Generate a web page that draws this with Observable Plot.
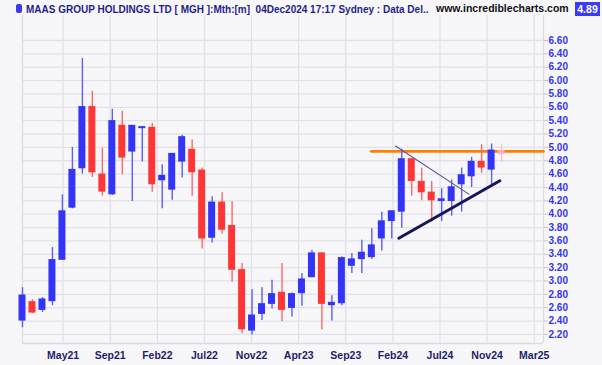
<!DOCTYPE html>
<html>
<head>
<meta charset="utf-8">
<script src="https://cdn.jsdelivr.net/npm/d3@7"></script>
<script src="https://cdn.jsdelivr.net/npm/@observablehq/plot@0.6"></script>
<style>
  html, body { margin: 0; padding: 0; background: #f7f7fa; }
  #wrap { position: relative; width: 602px; height: 365px; overflow: hidden; font-family: "Liberation Sans", Arial, sans-serif; }
  #chart { position: absolute; left: 0; top: 0; }
  .hdr { position: absolute; white-space: pre; font-weight: bold; line-height: 11px; }
</style>
</head>
<body>
<div id="wrap">
  <div id="chart"></div>
  <div class="hdr" style="left:16px;top:4px;width:6px;height:9px;background:#3a3aee;border-radius:2px;"></div>
  <div class="hdr" id="title" style="left:26px;top:4px;font-size:10px;color:#1e1e8c;"></div>
  <div class="hdr" id="site" style="left:436px;top:3px;font-size:10.5px;color:#111;"></div>
  <div class="hdr" id="last" style="left:575px;top:2px;width:25px;height:14px;line-height:14px;text-align:center;font-size:10.5px;color:#fff;background:#3b3bf5;"></div>
</div>
<script>
// ---- data ----
const titleText = "MAAS GROUP HOLDINGS LTD [ MGH ]:Mth:[m]  04Dec2024 17:17 Sydney : Data Del..";
const siteText = "www.incrediblecharts.com";
const lastPrice = "4.89";

// monthly candles Dec 2020 .. Dec 2024
const months = ["Dec20","Jan21","Feb21","Mar21","Apr21","May21","Jun21","Jul21","Aug21","Sep21","Oct21","Nov21",
  "Dec21","Jan22","Feb22","Mar22","Apr22","May22","Jun22","Jul22","Aug22","Sep22","Oct22","Nov22",
  "Dec22","Jan23","Feb23","Mar23","Apr23","May23","Jun23","Jul23","Aug23","Sep23","Oct23","Nov23",
  "Dec23","Jan24","Feb24","Mar24","Apr24","May24","Jun24","Jul24","Aug24","Sep24","Oct24","Nov24","Dec24"];
const openP  = [2.41,2.68,2.57,2.70,3.32,4.10,4.69,5.60,4.59,4.30,5.32,4.94,5.29,5.29,4.51,4.37,4.79,4.96,4.65,3.65,
  4.17,3.82,3.16,2.26,2.51,2.66,2.82,2.60,2.82,3.06,3.41,2.64,2.67,3.23,3.33,3.36,3.64,3.90,4.04,4.82,
  4.48,4.32,4.20,4.20,4.45,4.57,4.78,4.67,4.94];
const highP  = [2.90,2.72,2.75,3.50,4.29,5.00,6.33,5.84,4.99,5.57,5.54,5.32,5.31,5.36,4.74,4.91,5.18,5.11,4.69,4.26,
  4.32,4.19,3.26,2.87,2.90,3.01,3.26,2.82,3.11,3.46,3.42,2.78,3.36,3.41,3.61,3.78,4.03,4.05,4.97,4.83,
  4.69,4.49,4.38,4.51,4.69,4.85,5.04,5.05,5.05];
const lowP   = [2.30,2.51,2.53,2.63,3.31,4.08,4.60,4.55,4.27,4.28,4.59,4.19,4.78,4.33,4.08,4.21,4.54,4.27,3.48,3.57,
  3.70,2.98,2.21,2.19,2.41,2.58,2.39,2.46,2.62,3.05,2.27,2.40,2.63,3.11,3.11,3.32,3.45,3.63,3.79,4.27,
  4.20,3.88,3.89,3.97,4.03,4.40,4.61,4.44,4.78];
const closeP = [2.78,2.53,2.72,3.31,4.04,4.66,5.60,4.63,4.34,5.39,4.85,5.32,5.30,4.45,4.57,4.90,5.15,4.63,3.64,4.17,
  3.77,3.17,2.28,2.48,2.65,2.80,2.57,2.80,3.02,3.41,2.66,2.67,3.34,3.32,3.42,3.53,3.89,4.04,4.82,4.50,
  4.33,4.21,4.22,4.40,4.58,4.78,4.70,4.95,4.90];

const xTickPos = [4.07, 8.79, 13.51, 18.23, 22.95, 27.67, 32.39, 37.11, 41.83, 46.55, 51.27];
const xTickLabels = ["May21","Sep21","Feb22","Jul22","Nov22","Apr23","Sep23","Feb24","Jul24","Nov24","Mar25"];
const yTicks = d3.range(22, 67, 2).map(v => v / 10);

// drawn lines (bar index, price)
const resistance = [{i: 34.94, p: 4.94}, {i: 52.2, p: 4.94}];
const downTrend = [{i: 37.37, p: 5.02}, {i: 44.72, p: 4.30}];
const upTrend = [{i: 37.70, p: 3.64}, {i: 47.83, p: 4.50}];

// ---- build ----
const n = months.length;
const candles = months.map((m, i) => ({
  i, month: m, open: openP[i], high: highP[i], low: lowP[i], close: closeP[i],
  kind: i === n - 1 ? "cur" : (closeP[i] >= openP[i] ? "up" : "down")
}));
const bodyCol = {up: "#3434f8", down: "#ff3636", cur: "#ffb4bc"};
const wickCol = {up: "#5c5cff", down: "#ff6868", cur: "#ffbcc4"};
const labelMap = new Map(xTickPos.map((p, k) => [p, xTickLabels[k]]));

document.getElementById("title").textContent = titleText;
document.getElementById("site").textContent = siteText;
document.getElementById("last").textContent = lastPrice;

const gridCol = "#e1e1e9";
const chart = Plot.plot({
  width: 602, height: 365,
  marginTop: 15, marginBottom: 22, marginLeft: 22, marginRight: 59,
  style: {background: "transparent", fontFamily: "'Liberation Sans', Arial, sans-serif", overflow: "visible"},
  x: {type: "linear", domain: [0, 52.2], axis: null, label: null},
  y: {domain: [2.064, 6.974], axis: null, label: null},
  marks: [
    Plot.gridY(yTicks, {stroke: gridCol, strokeOpacity: 1, strokeWidth: 1.3}),
    Plot.gridX(xTickPos, {stroke: gridCol, strokeOpacity: 1, strokeWidth: 1.3}),
    Plot.ruleX([0, 52.2], {stroke: "#dcdce4", strokeWidth: 1.3}),
    Plot.ruleY([2.064], {stroke: "#dcdce4", strokeWidth: 1.3}),
    Plot.axisY(yTicks, {anchor: "right", label: null, tickSize: 4, tickPadding: 1, stroke: "#c4c4cc",
      fill: "#3535ee", fontWeight: "bold", fontSize: 10, tickFormat: d => d.toFixed(2)}),
    Plot.axisX(xTickPos, {anchor: "bottom", label: null, tickSize: 0, tickPadding: 8, fill: "#1d1d6e",
      fontWeight: "bold", fontSize: 10.5, tickFormat: d => labelMap.get(d)}),
    Plot.line(resistance, {x: "i", y: "p", stroke: "#ff8000", strokeWidth: 2.6}),
    Plot.ruleX(candles, {x: "i", y1: "low", y2: "high", stroke: d => wickCol[d.kind], strokeWidth: 1.4}),
    Plot.rect(candles, {x1: d => d.i - 0.35, x2: d => d.i + 0.35,
      y1: d => Math.min(d.open, d.close), y2: d => Math.max(d.open, d.close),
      insetTop: -0.7, insetBottom: -0.7, fill: d => bodyCol[d.kind]}),
    Plot.line(downTrend, {x: "i", y: "p", stroke: "#55559a", strokeWidth: 1.1}),
    Plot.line(upTrend, {x: "i", y: "p", stroke: "#17175e", strokeWidth: 3}),
  ]
});
document.getElementById("chart").appendChild(chart);
</script>
</body>
</html>
